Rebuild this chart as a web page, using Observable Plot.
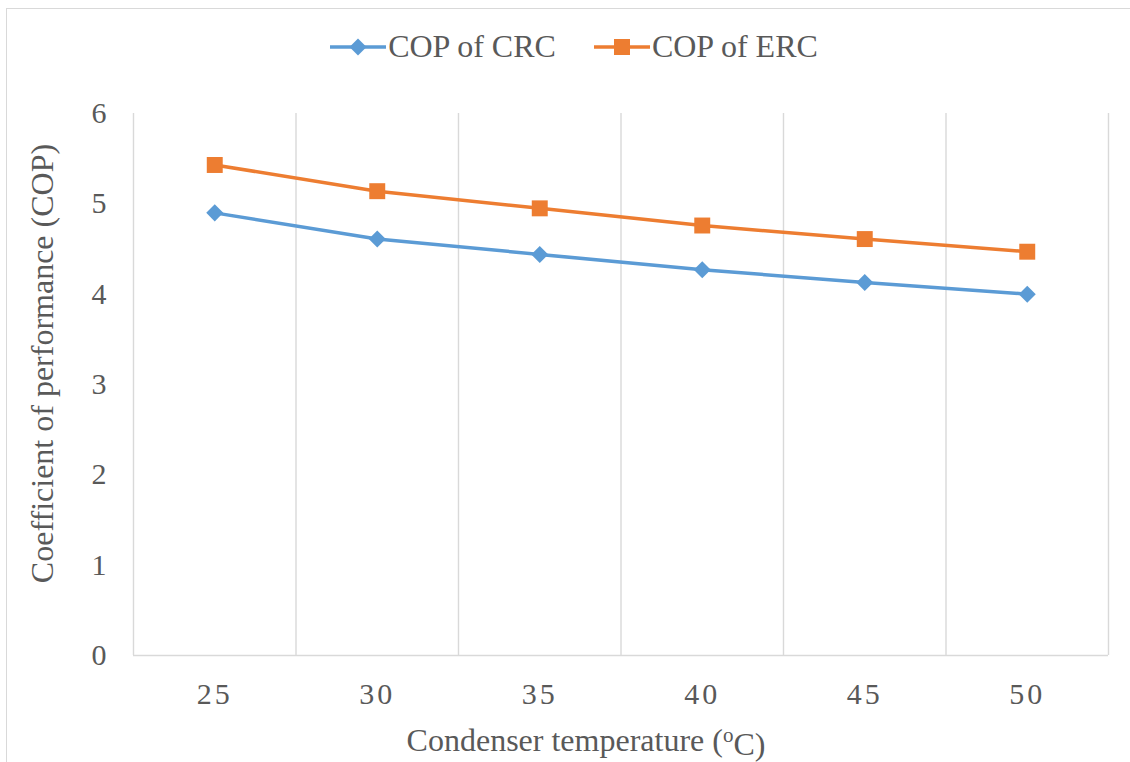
<!DOCTYPE html>
<html>
<head>
<meta charset="utf-8">
<script src="https://cdn.jsdelivr.net/npm/d3@7"></script>
<script src="https://cdn.jsdelivr.net/npm/@observablehq/plot@0.6"></script>
<style>
  html, body { margin: 0; padding: 0; background: #fff; overflow: hidden; }
  #wrap { position: relative; width: 1130px; height: 762px; overflow: hidden; font-family: "Liberation Serif", "DejaVu Serif", serif; color: #595959; }
  #frame { position: absolute; left: 6px; top: 8px; width: 1150px; height: 800px; border: 1.5px solid #d9d9d9; box-sizing: border-box; }
  #chart { position: absolute; left: 0; top: 0; }
  #chart svg, #chart text { font-family: "Liberation Serif", "DejaVu Serif", serif; }
  #legend { position: absolute; left: 0; top: 28px; width: 1148px; display: flex; justify-content: center; gap: 38px; font-size: 32px; }
  .item { display: flex; align-items: center; }
  .item svg { display: block; margin-right: 2px; }
</style>
</head>
<body>
<div id="wrap">
  <div id="frame"></div>
  <div id="chart"></div>
  <div id="legend"></div>
</div>
<script>
// ---- data ----
const temps = [25, 30, 35, 40, 45, 50];
const copCRC = [4.90, 4.61, 4.44, 4.27, 4.13, 4.00];
const copERC = [5.43, 5.14, 4.95, 4.76, 4.61, 4.47];
const yTicks = [0, 1, 2, 3, 4, 5, 6];
const seriesNames = ["COP of CRC", "COP of ERC"];
const seriesColors = ["#5b9bd5", "#ed7d31"];
const xTitle = "Condenser temperature (oC)";
const yTitle = "Coefficient of performance (COP)";

const rows = [
  ...temps.map((t, i) => ({temp: t, cop: copCRC[i], series: seriesNames[0]})),
  ...temps.map((t, i) => ({temp: t, cop: copERC[i], series: seriesNames[1]}))
];
const halfStep = (temps[1] - temps[0]) / 2;
const boundaries = [...temps.map(t => t - halfStep), temps[temps.length - 1] + halfStep];

const grid = "#d9d9d9";
const plot = Plot.plot({
  width: 1130,
  height: 762,
  marginLeft: 133,
  marginRight: 22,
  marginTop: 113,
  marginBottom: 107,
  style: {fontFamily: "'Liberation Serif', 'DejaVu Serif', serif", fontSize: "30px", color: "#595959", background: "transparent", overflow: "visible"},
  x: {domain: [boundaries[0], boundaries[boundaries.length - 1]]},
  y: {domain: [0, 6]},
  color: {domain: seriesNames, range: seriesColors},
  marks: [
    Plot.ruleX(boundaries, {stroke: grid, strokeWidth: 1.4}),
    Plot.ruleY([0], {stroke: grid, strokeWidth: 1.4}),
    Plot.axisX(temps, {tickSize: 0, tickPadding: 27, label: null, fontSize: 30, tickFormat: d => String(d)}),
    Plot.axisY(yTicks, {tickSize: 0, tickPadding: 27, label: null, fontSize: 30, tickFormat: d => String(d)}),
    Plot.line(rows, {x: "temp", y: "cop", z: "series", stroke: "series", strokeWidth: 3.5}),
    Plot.dot(rows.filter(d => d.series === seriesNames[1]), {x: "temp", y: "cop", symbol: "square", r: 9, fill: seriesColors[1], stroke: "none"}),
    Plot.dot(rows.filter(d => d.series === seriesNames[0]), {x: "temp", y: "cop", symbol: "square", r: 6.8, rotate: 45, fill: seriesColors[0], stroke: "none"}),
    Plot.text([yTitle], {frameAnchor: "left", rotate: -90, dx: -91, dy: -21, fontSize: 32, fill: "#595959", textAnchor: "middle", lineAnchor: "middle"}),
    Plot.text([xTitle], {frameAnchor: "bottom", dx: -35, dy: 85, fontSize: 32, fill: "#595959", textAnchor: "middle", lineAnchor: "middle"})
  ]
});
document.getElementById("chart").appendChild(plot);

// letter spacing on x tick labels
d3.select(plot).selectAll('g[aria-label="x-axis tick label"] text').style("letter-spacing", "3px");

// superscript o in the x title
d3.select(plot).selectAll("text").each(function() {
  if (this.textContent === xTitle) {
    const el = d3.select(this);
    el.text(null);
    el.append("tspan").text("Condenser temperature (");
    el.append("tspan").attr("dy", "-0.4em").style("font-size", "21px").text("o");
    el.append("tspan").attr("dy", "0.4em").text("C)");
  }
});

// legend
const legend = d3.select("#legend");
seriesNames.forEach((name, i) => {
  const item = legend.append("div").attr("class", "item");
  const s = item.append("svg").attr("width", 56).attr("height", 24);
  s.append("line").attr("x1", 0).attr("x2", 56).attr("y1", 12).attr("y2", 12)
    .attr("stroke", seriesColors[i]).attr("stroke-width", 3.5);
  if (i === 0) {
    s.append("path").attr("d", d3.symbol(d3.symbolSquare, 12 * 12)()).attr("transform", "translate(28,12) rotate(45)").attr("fill", seriesColors[i]);
  } else {
    s.append("path").attr("d", d3.symbol(d3.symbolSquare, 16 * 16)()).attr("transform", "translate(28,12)").attr("fill", seriesColors[i]);
  }
  item.append("span").text(name);
});
</script>
</body>
</html>
